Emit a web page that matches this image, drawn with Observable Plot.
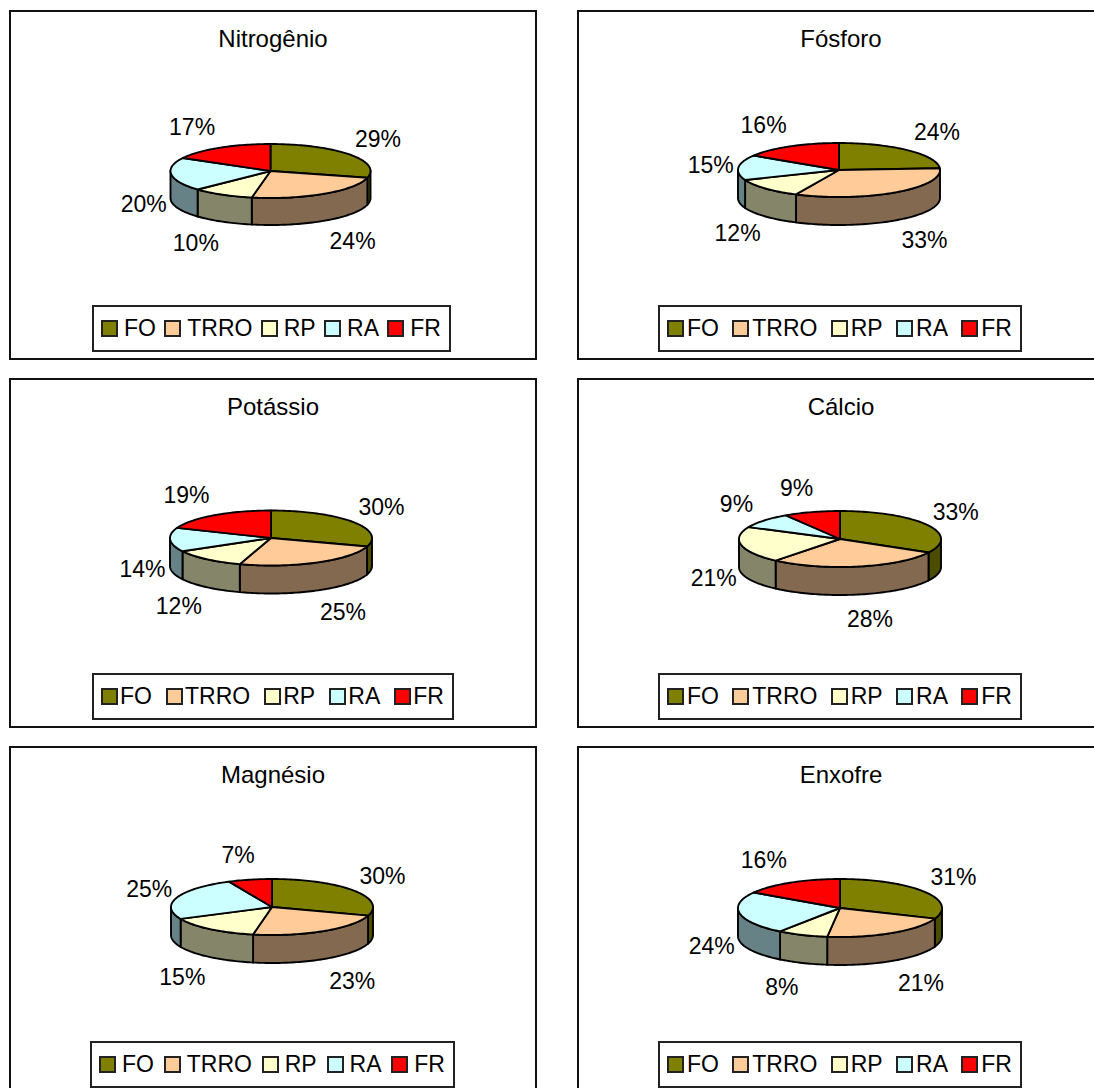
<!DOCTYPE html>
<html lang="pt">
<head>
<meta charset="utf-8">
<script src="https://cdn.jsdelivr.net/npm/d3@7"></script>
<script src="https://cdn.jsdelivr.net/npm/@observablehq/plot@0.6"></script>
<style>
  html, body { margin: 0; padding: 0; background: #fff; width: 1094px; height: 1088px; overflow: hidden; }
  body { position: relative; font-family: "Liberation Sans", Arial, sans-serif; color: #000; }
  .panel { position: absolute; box-sizing: border-box; border: 2px solid #111; background: #fff; }
  .panel svg { position: absolute; left: -2px; top: -2px; background: none; max-width: none !important; height: auto; }
  .title { position: absolute; left: -2px; right: -2px; text-align: center; font-size: 24px; line-height: 28px; top: 13px; }
  .legend { position: absolute; box-sizing: border-box; border: 2px solid #222; background: #fff; height: 47px; display: flex; align-items: center; font-size: 23px; }
  .legend i { display: block; width: 17px; height: 17px; box-sizing: border-box; border: 2px solid #222; flex: none; }
  .legend span { display: block; white-space: nowrap; }
</style>
</head>
<body>
<script>
// Categories and colours
const categories = ["FO", "TRRO", "RP", "RA", "FR"];
const topColors = ["#808000", "#FFCC99", "#FFFFCC", "#CCFFFF", "#FF0000"];
const sideColors = ["#4D4D00", "#836950", "#858569", "#678286", "#800000"];

// Percentages (order: FO, TRRO, RP, RA, FR)
const titles = ["Nitrogênio", "Fósforo", "Potássio", "Cálcio", "Magnésio", "Enxofre"];
const nitrogenio = [29, 24, 10, 20, 17];
const fosforo = [24, 33, 12, 15, 16];
const potassio = [30, 25, 12, 14, 19];
const calcio = [33, 28, 21, 9, 9];
const magnesio = [30, 23, 15, 25, 7];
const enxofre = [31, 21, 8, 24, 16];
const series = [nitrogenio, fosforo, potassio, calcio, magnesio, enxofre];

// Layout
const panelW = 528, panelH = 350;
const panelLeft = [9, 577], panelTop = [10, 378, 746];
const pieLayout = [
  {cx: 270.5, cy: 171, rx: 100, ry: 27, depth: 27},
  {cx: 839, cy: 170, rx: 101, ry: 27, depth: 28},
  {cx: 271, cy: 538, rx: 101, ry: 27.5, depth: 28},
  {cx: 840, cy: 539, rx: 101, ry: 28, depth: 28},
  {cx: 272, cy: 907, rx: 101, ry: 28, depth: 28},
  {cx: 840, cy: 908, rx: 102, ry: 29, depth: 28}
];
const legendLayout = [
  {left: 92, width: 359, swatchGap: 6},
  {left: 658, width: 364, swatchGap: 3},
  {left: 92, width: 362, swatchGap: 2},
  {left: 658, width: 364, swatchGap: 3},
  {left: 90, width: 365, swatchGap: 6},
  {left: 658, width: 364, swatchGap: 3}
];

const colorDomain = [...categories, ...categories.map(c => c + " lateral")];
const colorRange = [...topColors, ...sideColors];
const rad = Math.PI / 180;

function arc(a0, a1) {
  const n = Math.max(2, Math.ceil((a1 - a0) / 1.5));
  return d3.range(n + 1).map(i => {
    const t = (a0 + (a1 - a0) * i / n) * rad;
    return {sx: Math.sin(t), sy: -Math.cos(t)};
  });
}

series.forEach((values, k) => {
  const col = k % 2, row = Math.floor(k / 2);
  const L = panelLeft[col], T = panelTop[row];
  const p = pieLayout[k];
  const depth = p.depth / p.ry;

  const tops = [], sides = [], labels = [];
  let acc = 0;
  const total = d3.sum(values);
  values.forEach((v, i) => {
    const a0 = acc / total * 360, a1 = (acc + v) / total * 360;
    acc += v;
    const name = categories[i];
    arc(a0, a1).forEach(q => tops.push({key: name, x1: 0, y1: 0, x2: q.sx, y2: q.sy}));
    const s0 = Math.max(a0, 90), s1 = Math.min(a1, 270);
    if (s1 > s0) arc(s0, s1).forEach(q => sides.push({key: name + " lateral", x: q.sx, y1: q.sy, y2: q.sy + depth}));
    const mid = (a0 + a1) / 2 * rad;
    const c = Math.cos(mid), sn = Math.sin(mid);
    // Label sits outside the rim, and clears the side wall on the lower half.
    labels.push({
      x: sn + 0.28 * Math.max(-1, Math.min(1, sn / 0.5)),
      y: (c < 0 ? depth : 0) - 1.9 * c,
      text: v + "%"
    });
  });

  const panel = document.createElement("div");
  panel.className = "panel";
  Object.assign(panel.style, {left: L + "px", top: T + "px", width: panelW + "px", height: panelH + "px"});

  const plot = Plot.plot({
    width: panelW, height: panelH,
    margin: 0,
    x: {domain: [(L - p.cx) / p.rx, (L + panelW - p.cx) / p.rx], range: [0, panelW], axis: null},
    y: {domain: [(T - p.cy) / p.ry, (T + panelH - p.cy) / p.ry], range: [0, panelH], axis: null},
    color: {type: "ordinal", domain: colorDomain, range: colorRange},
    style: {fontFamily: "'Liberation Sans', Arial, sans-serif", background: "none", maxWidth: "none"},
    marks: [
      Plot.area(sides, {x1: "x", x2: "x", y1: "y1", y2: "y2", z: "key", fill: "key", stroke: "#000", strokeWidth: 1.9, strokeLinejoin: "round"}),
      Plot.area(tops, {x1: "x1", y1: "y1", x2: "x2", y2: "y2", z: "key", fill: "key", stroke: "#000", strokeWidth: 1.9, strokeLinejoin: "round"}),
      Plot.text(labels, {x: "x", y: "y", text: "text", fontSize: 23, fill: "#000"})
    ]
  });
  panel.appendChild(plot);

  const title = document.createElement("div");
  title.className = "title";
  title.textContent = titles[k];
  panel.appendChild(title);

  const lg = legendLayout[k];
  const legend = document.createElement("div");
  legend.className = "legend";
  Object.assign(legend.style, {left: (lg.left - L - 2) + "px", top: "293px", width: lg.width + "px", paddingLeft: "7px", paddingRight: "8px", justifyContent: "space-between"});
  categories.forEach((c, i) => {
    const item = document.createElement("div");
    item.style.cssText = "display:flex;align-items:center;gap:" + lg.swatchGap + "px";
    const sw = document.createElement("i");
    sw.style.background = topColors[i];
    const tx = document.createElement("span");
    tx.textContent = c;
    item.append(sw, tx);
    legend.appendChild(item);
  });
  panel.appendChild(legend);
  document.body.appendChild(panel);
});
</script>
</body>
</html>
